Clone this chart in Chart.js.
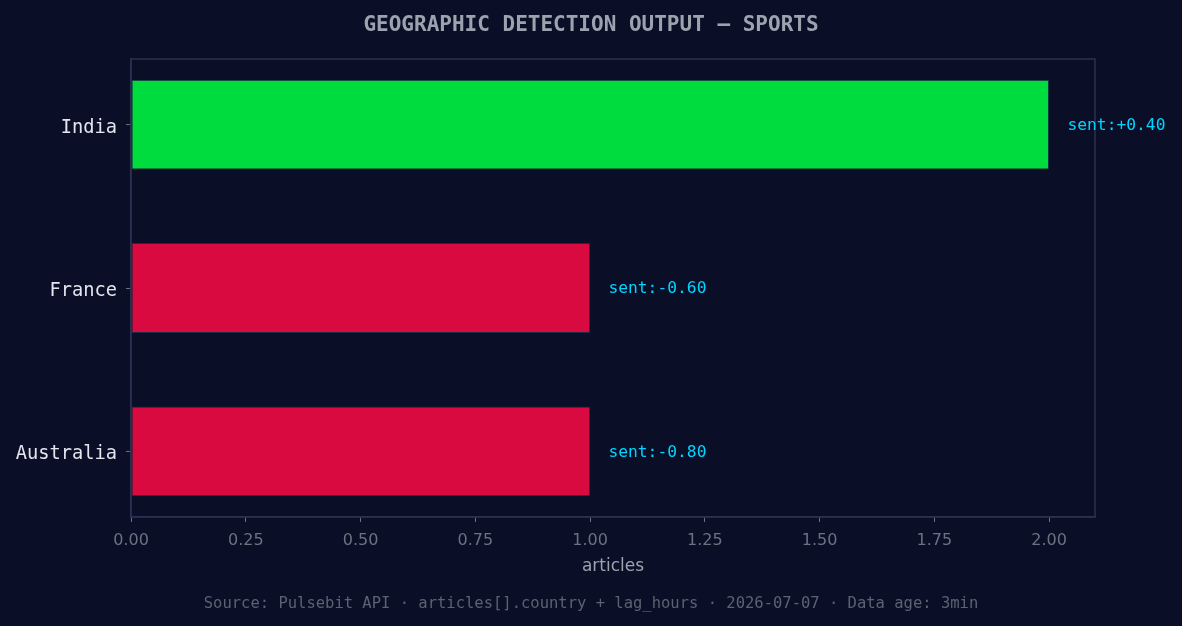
<!DOCTYPE html>
<html><head><meta charset="utf-8">
<script src="https://cdn.jsdelivr.net/npm/chart.js@4"></script>
<style>html,body{margin:0;padding:0;background:#0a0e27;}#wrap{width:1182px;height:626px;}</style>
</head><body><div id="wrap"><canvas id="c" width="1182" height="626"></canvas></div>
<script>
const countries = ["India", "France", "Australia"];
const articles = [2, 1, 1];
const sentiments = [0.40, -0.60, -0.80];
const barColors = ["#00dc3e", "#d80a3f", "#d80a3f"];
const xTicks = [0, 0.25, 0.5, 0.75, 1.0, 1.25, 1.5, 1.75, 2.0];
const titleText = "GEOGRAPHIC DETECTION OUTPUT — SPORTS";
const footerText = "Source: Pulsebit API · articles[].country + lag_hours · 2026-07-07 · Data age: 3min";

const MONO = "'DejaVu Sans Mono', monospace";
const SANS = "'DejaVu Sans', sans-serif";

const overlay = {
  id: 'overlay',
  afterLayout(chart) {
    const ys = chart.scales.y;
    if (ys && !ys._patched) {
      const orig = ys.drawLabels.bind(ys);
      ys.drawLabels = function (area) {
        const ctx = this.ctx;
        ctx.save();
        ctx.translate(0, 3);
        orig(area);
        ctx.restore();
      };
      ys._patched = true;
    }
  },
  beforeDraw(chart) {
    const ctx = chart.ctx;
    ctx.save();
    ctx.fillStyle = '#0a0e27';
    ctx.fillRect(0, 0, chart.width, chart.height);
    ctx.restore();
  },
  afterDatasetsDraw(chart) {
    const ctx = chart.ctx, a = chart.chartArea;
    ctx.save();
    ctx.strokeStyle = '#2a3050';
    ctx.lineWidth = 1.5;
    ctx.strokeRect(a.left, a.top, a.right - a.left, a.bottom - a.top);
    const xs = chart.scales.x, ys = chart.scales.y;
    ctx.font = "16.3px " + MONO;
    ctx.fillStyle = '#00d4ff';
    ctx.textBaseline = 'middle';
    ctx.textAlign = 'left';
    articles.forEach((v, i) => {
      const s = sentiments[i];
      const txt = "sent:" + (s >= 0 ? "+" : "") + s.toFixed(2);
      ctx.fillText(txt, xs.getPixelForValue(v + 0.04), ys.getPixelForValue(i) + 1);
    });
    ctx.font = "bold 21px " + MONO;
    ctx.fillStyle = '#9ca3af';
    ctx.textAlign = 'center';
    ctx.fillText(titleText, chart.width / 2, 26);
    ctx.font = "15.5px " + MONO;
    ctx.fillStyle = '#5b6272';
    ctx.fillText(footerText, chart.width / 2, 604);
    ctx.restore();
  }
};

new Chart(document.getElementById('c'), {
  type: 'bar',
  data: {
    datasets: [{
      data: articles.map((v, i) => ({ x: v, y: i })),
      backgroundColor: barColors,
      borderColor: '#1e2a48',
      borderWidth: 1,
      borderSkipped: false,
      barPercentage: 0.55,
      categoryPercentage: 1.0
    }]
  },
  options: {
    indexAxis: 'y',
    responsive: false,
    animation: false,
    layout: { padding: { top: 59, right: 87, bottom: 49, left: 0 } },
    plugins: { legend: { display: false }, tooltip: { enabled: false } },
    scales: {
      x: {
        type: 'linear', min: 0, max: 2.1,
        afterBuildTicks: s => { s.ticks = xTicks.map(v => ({ value: v })); },
        afterFit: s => { s.height = 60; },
        grid: { drawOnChartArea: false, drawTicks: true, tickLength: 5, color: '#6b7280', lineWidth: 1 },
        border: { color: '#2a3050', width: 1.5 },
        ticks: { color: '#6b7280', font: { family: SANS, size: 16 }, padding: 9, maxRotation: 0,
                 callback: v => Number(v).toFixed(2) },
        title: { display: true, text: 'articles', color: '#9ca3af', font: { family: SANS, size: 17 }, padding: { top: 3, bottom: 0 } }
      },
      y: {
        type: 'linear', reverse: true, min: -0.4025, max: 2.4025, offset: false,
        afterBuildTicks: s => { s.ticks = countries.map((c, i) => ({ value: i })); },
        afterFit: s => { s.width = 131; },
        grid: { offset: false, drawOnChartArea: false, drawTicks: true, tickLength: 5, color: '#6b7280', lineWidth: 1 },
        border: { color: '#2a3050', width: 1.5 },
        ticks: { color: '#e2e6ee', font: { family: MONO, size: 18.7 }, padding: 9,
                 callback: v => countries[v] }
      }
    }
  },
  plugins: [overlay]
});
</script></body></html>
